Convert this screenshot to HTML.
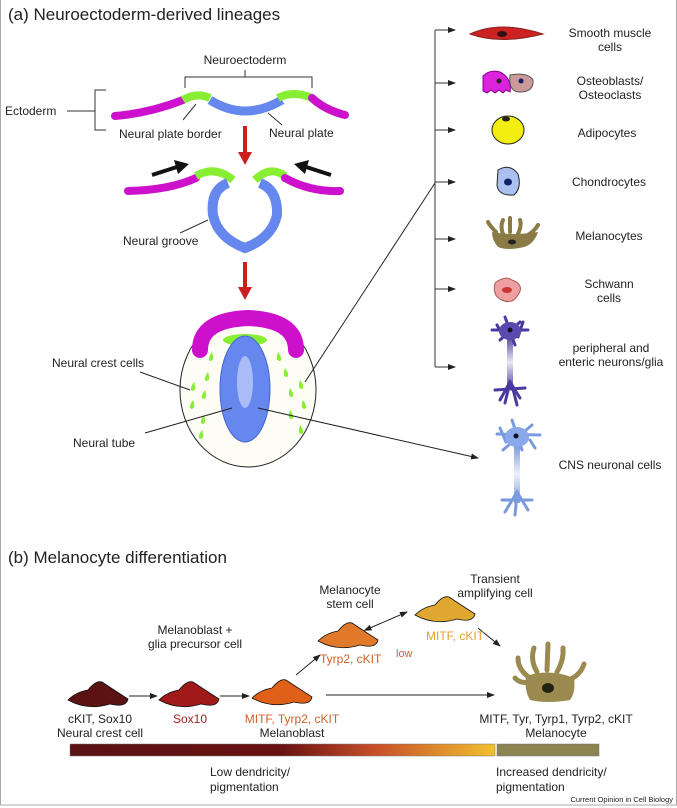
<!DOCTYPE html>
<html><head><meta charset="utf-8"><style>
html,body{margin:0;padding:0;background:#fff}
svg{display:block}
text{font-family:"Liberation Sans",sans-serif;font-size:12px;fill:#222}
</style></head><body>
<svg width="677" height="808" viewBox="0 0 677 808" xmlns="http://www.w3.org/2000/svg">
<defs>
<marker id="ah" markerWidth="8" markerHeight="8" refX="7" refY="4" orient="auto" markerUnits="userSpaceOnUse"><path d="M0,1 L8,4 L0,7z" fill="#222"/></marker>
<marker id="ah0" markerWidth="8" markerHeight="8" refX="1" refY="4" orient="auto-start-reverse" markerUnits="userSpaceOnUse"><path d="M0,1 L8,4 L0,7z" fill="#222"/></marker>
<linearGradient id="bar" x1="0" x2="1"><stop offset="0" stop-color="#5a1212"/><stop offset="0.5" stop-color="#6a1212"/><stop offset="0.72" stop-color="#c8502a"/><stop offset="1" stop-color="#f0c030"/></linearGradient>
<linearGradient id="nv" x1="0" y1="0" x2="0" y2="1"><stop offset="0" stop-color="#4a3aa0"/><stop offset="0.5" stop-color="#e8e8f4"/><stop offset="1" stop-color="#4a3aa0"/></linearGradient>
<linearGradient id="nc" x1="0" y1="0" x2="0" y2="1"><stop offset="0" stop-color="#7a9ae0"/><stop offset="0.5" stop-color="#eef0fa"/><stop offset="1" stop-color="#7a9ae0"/></linearGradient>
<path id="cell" d="M0,18 Q8,10 20,8 Q28,-2 34,0 Q46,8 60,17 Q58,26 42,22 Q20,29 0,18z"/>
</defs>
<rect x="0.5" y="-1" width="676" height="806" fill="none" stroke="#aaa"/>
<text x="8" y="20" style="font-size:17px">(a) Neuroectoderm-derived lineages</text>
<text x="245" y="64" text-anchor="middle">Neuroectoderm</text>
<path d="M185,88 V77 H312 V88 M245,77 V70" fill="none" stroke="#333"/>
<text x="5" y="115">Ectoderm</text>
<path d="M67,111 H95 M106,90 H95 V130 H106" fill="none" stroke="#333"/>
<path d="M115,116 Q150,113 183,100" stroke="#cc10cc" stroke-width="8" stroke-linecap="round" fill="none"/>
<path d="M183,100 Q196,92 210,98" stroke="#88ee33" stroke-width="8" fill="none"/>
<path d="M210,100 Q245,122 282,100" stroke="#6688ee" stroke-width="9" fill="none"/>
<path d="M278,98 Q293,90 312,98" stroke="#88ee33" stroke-width="8" fill="none"/>
<path d="M312,98 Q325,110 345,115" stroke="#cc10cc" stroke-width="8" stroke-linecap="round" fill="none"/>
<path d="M183,120 L196,104 M268,113 L282,125" stroke="#333"/>
<text x="119" y="138">Neural plate border</text>
<text x="269" y="137">Neural plate</text>
<path d="M245,126 V155" stroke="#cc2020" stroke-width="4"/><path d="M238,152 L252,152 L245,165z" fill="#cc2020"/>
<path d="M152,175 L180,166" stroke="#111" stroke-width="4"/><path d="M174,160 L189,164 L178,174z" fill="#111"/>
<path d="M331,175 L303,166" stroke="#111" stroke-width="4"/><path d="M309,160 L294,164 L305,174z" fill="#111"/>
<path d="M128,191 Q170,190 196,178" stroke="#cc10cc" stroke-width="8" stroke-linecap="round" fill="none"/>
<path d="M196,176 Q215,165 233,180" stroke="#88ee33" stroke-width="8" fill="none"/>
<path d="M255,180 Q270,165 285,176" stroke="#88ee33" stroke-width="8" fill="none"/>
<path d="M285,178 Q310,192 340,191" stroke="#cc10cc" stroke-width="8" stroke-linecap="round" fill="none"/>
<path d="M228,183 Q210,190 213,215 Q218,238 245,248 Q272,238 277,215 Q278,190 260,183" stroke="#6688ee" stroke-width="10" fill="none"/>
<path d="M180,233 L208,220" stroke="#333"/>
<text x="123" y="245">Neural groove</text>
<path d="M245,262 V290" stroke="#cc2020" stroke-width="4"/><path d="M238,287 L252,287 L245,300z" fill="#cc2020"/>
<ellipse cx="248" cy="390" rx="68" ry="77" fill="#fdfdf6" stroke="#222"/>
<path d="M200,350 Q200,320 248,318 Q296,320 296,350" stroke="#cc10cc" stroke-width="16" stroke-linecap="round" fill="none"/>
<ellipse cx="245" cy="340" rx="22" ry="6" fill="#88ee33"/>
<ellipse cx="245" cy="389" rx="25" ry="53" fill="#6688ee" stroke="#4466cc"/>
<ellipse cx="245" cy="382" rx="8" ry="26" fill="#aabbf8"/>
<g fill="#88ee33">
<path d="M212,352 q-5,7 -2,9 q5,0 2,-9z"/><path d="M208,372 q-5,7 -2,9 q5,0 2,-9z"/><path d="M194,382 q-5,7 -2,9 q5,0 2,-9z"/><path d="M205,390 q-5,7 -2,9 q5,0 2,-9z"/><path d="M193,400 q-5,7 -2,9 q5,0 2,-9z"/><path d="M204,415 q-5,7 -2,9 q5,0 2,-9z"/><path d="M202,430 q-5,7 -2,9 q5,0 2,-9z"/>
<path d="M278,352 q5,7 2,9 q-5,0 -2,-9z"/><path d="M285,368 q5,7 2,9 q-5,0 -2,-9z"/><path d="M300,380 q5,7 2,9 q-5,0 -2,-9z"/><path d="M290,388 q5,7 2,9 q-5,0 -2,-9z"/><path d="M303,400 q5,7 2,9 q-5,0 -2,-9z"/><path d="M290,410 q5,7 2,9 q-5,0 -2,-9z"/><path d="M300,425 q5,7 2,9 q-5,0 -2,-9z"/>
</g>
<text x="52" y="367">Neural crest  cells</text>
<path d="M140,372 L190,390" stroke="#222"/>
<text x="73" y="447">Neural tube</text>
<path d="M145,433 L232,408" stroke="#222"/>
<path d="M305,382 L435,183" stroke="#222"/>
<path d="M258,408 L478,458" stroke="#222" marker-end="url(#ah)"/>
<path d="M435,30 V367" stroke="#333"/>
<g stroke="#333" marker-end="url(#ah)"><path d="M435,30 H455"/><path d="M435,83 H455"/><path d="M435,130 H455"/><path d="M435,182 H455"/><path d="M435,239 H455"/><path d="M435,289 H455"/><path d="M435,367 H455"/></g>
<path d="M470,34 Q500,20 543,34 Q500,45 470,34z" fill="#cc2222" stroke="#882222"/><ellipse cx="502" cy="34" rx="5" ry="3" fill="#331111"/>
<path d="M483,76 Q490,69 500,72 Q512,78 510,92 L506,90 L503,93 L499,90 L495,93 L491,90 L487,93 L483,91z" fill="#dd22dd" stroke="#880088"/><circle cx="499" cy="81" r="2.5" fill="#222"/>
<path d="M510,75 Q528,72 533,80 Q534,92 520,92 Q508,92 510,75z" fill="#cc9999" stroke="#555"/><circle cx="521" cy="81" r="2.5" fill="#112266"/>
<ellipse cx="508" cy="130" rx="16" ry="14" fill="#f4ee10" stroke="#222"/><ellipse cx="506" cy="119" rx="4" ry="2.5" fill="#222"/>
<path d="M498,170 Q510,163 518,174 Q522,188 514,195 Q498,196 497,185z" fill="#aac0f0" stroke="#222"/><ellipse cx="508" cy="182" rx="4" ry="3.5" fill="#112266"/>
<g stroke="#8a7a45" stroke-width="4" stroke-linecap="round" fill="none"><path d="M496,232 Q490,226 488,222"/><path d="M503,234 Q500,226 503,220"/><path d="M510,232 L510,218"/><path d="M518,234 Q522,225 520,220"/><path d="M526,236 Q534,232 538,225"/></g>
<path d="M492,232 Q512,236 538,232 Q534,244 524,247 Q508,251 498,247 Q492,240 492,232z" fill="#8a7a45"/><ellipse cx="512" cy="242" rx="4" ry="2.5" fill="#222"/>
<path d="M495,283 Q505,275 512,280 Q525,285 518,295 Q512,305 502,300 Q492,296 495,283z" fill="#eea0a0" stroke="#aa5555"/><ellipse cx="507" cy="290" rx="5" ry="3" fill="#cc3333"/>
<rect x="507" y="335" width="6" height="55" fill="url(#nv)"/>
<g stroke="#4a3aa0" stroke-width="3" fill="none" stroke-linecap="round"><path d="M492,330 L528,330 M505,317 L515,345 M500,340 L520,322 M497,325 L503,336 M523,322 L518,337 M495,390 L525,388 M500,400 L510,382 L520,398 M510,382 L505,403 M512,385 L517,405"/></g>
<ellipse cx="510" cy="331" rx="11" ry="9" fill="#5a4ab0"/><circle cx="510" cy="330" r="2.5" fill="#112"/>
<rect x="514" y="445" width="6" height="58" fill="url(#nc)"/>
<g stroke="#7a9ae0" stroke-width="3" fill="none" stroke-linecap="round"><path d="M497,434 L540,435 M512,420 L522,450 M503,450 L532,425 M500,428 L506,442 M530,440 L535,448 M502,500 L532,500 M505,512 L517,492 L528,510 M517,495 L515,515"/></g>
<ellipse cx="517" cy="437" rx="12" ry="10" fill="#8aa8ea"/><circle cx="516" cy="436" r="2.5" fill="#112"/>
<g text-anchor="middle"><text x="610" y="37">Smooth muscle</text><text x="610" y="51">cells</text>
<text x="610" y="85">Osteoblasts/</text><text x="610" y="99">Osteoclasts</text>
<text x="607" y="137">Adipocytes</text><text x="609" y="186">Chondrocytes</text><text x="609" y="240">Melanocytes</text>
<text x="609" y="288">Schwann</text><text x="609" y="302">cells</text>
<text x="611" y="352">peripheral and</text><text x="611" y="366">enteric neurons/glia</text>
<text x="610" y="469">CNS neuronal cells</text></g>
<text x="8" y="563" style="font-size:17px">(b) Melanocyte differentiation</text>
<g stroke="#111" stroke-width="0.8">
<use href="#cell" x="68" y="682" fill="#5a1212"/>
<use href="#cell" x="159" y="682" fill="#a01a1a"/>
<use href="#cell" x="252" y="680" fill="#e0601a"/>
<use href="#cell" x="318" y="623" fill="#e07a2a"/>
<use href="#cell" x="415" y="597" fill="#e0a830"/>
</g>
<g stroke="#9a8a50" stroke-width="5" stroke-linecap="round" fill="none">
<path d="M530,678 Q518,670 518,658"/><path d="M537,672 Q530,660 534,648"/><path d="M547,670 L548,644"/><path d="M557,672 Q564,660 563,648"/><path d="M568,680 Q580,676 584,664"/><path d="M530,682 Q520,684 515,678"/>
</g>
<path d="M526,676 Q550,668 574,678 Q576,692 570,700 Q548,704 530,700 Q524,690 526,676z" fill="#9a8a50"/>
<ellipse cx="548" cy="688" rx="6" ry="5" fill="#221"/>
<g stroke="#222" marker-end="url(#ah)"><path d="M129,696 H157"/><path d="M220,696 H249"/><path d="M326,695 H494"/><path d="M296,675 L320,655"/><path d="M478,628 L500,646"/></g>
<path d="M370,628 L407,612" stroke="#222" marker-end="url(#ah)" marker-start="url(#ah0)"/>
<g text-anchor="middle">
<text x="100" y="723">cKIT, Sox10</text><text x="100" y="737">Neural crest cell</text>
<text x="190" y="723" style="fill:#a02020">Sox10</text>
<text x="292" y="723" style="fill:#d0602a">MITF, Tyrp2, cKIT</text><text x="292" y="737">Melanoblast</text>
<text x="195" y="634">Melanoblast +</text><text x="195" y="648">glia precursor cell</text>
<text x="350" y="594">Melanocyte</text><text x="350" y="608">stem cell</text>
<text x="495" y="583">Transient</text><text x="495" y="597">amplifying cell</text>
<text x="455" y="640" style="fill:#e0a030">MITF, cKIT</text>
<text x="556" y="723">MITF, Tyr, Tyrp1, Tyrp2, cKIT</text><text x="556" y="737">Melanocyte</text>
</g>
<text x="320" y="663" style="fill:#d0602a">Tyrp2, cKIT</text><text x="396" y="657" style="fill:#d0602a;font-size:11px">low</text>
<rect x="70" y="744" width="425" height="12" fill="url(#bar)" stroke="#777" stroke-width="0.5"/>
<rect x="497" y="744" width="102" height="12" fill="#8c8450" stroke="#777" stroke-width="0.5"/>
<text x="210" y="776">Low dendricity/</text><text x="210" y="791">pigmentation</text>
<text x="496" y="776">Increased dendricity/</text><text x="496" y="791">pigmentation</text>
<text x="673" y="802" text-anchor="end" style="font-size:7.5px">Current Opinion in Cell Biology</text>
</svg>
</body></html>
